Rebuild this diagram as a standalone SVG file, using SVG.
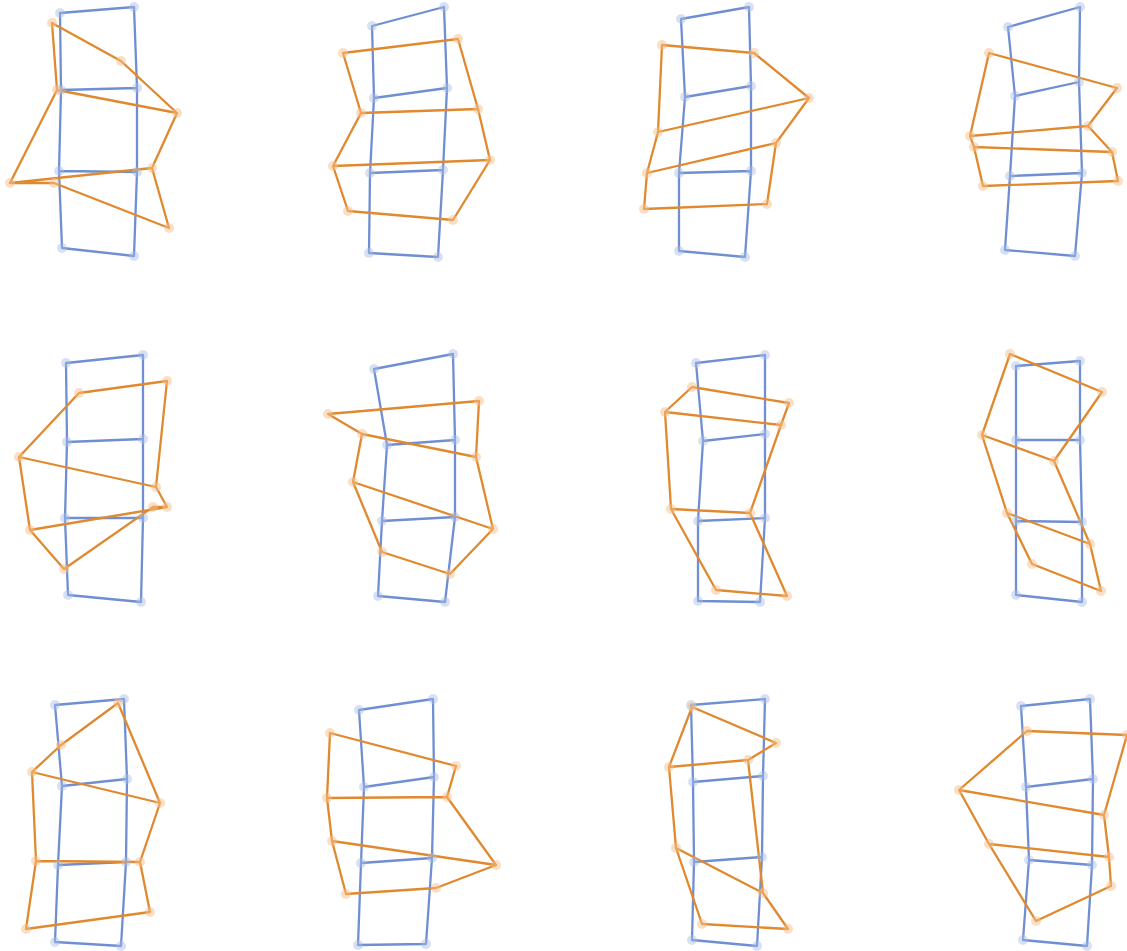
<svg xmlns="http://www.w3.org/2000/svg" width="1127" height="951" viewBox="0 0 1127 951">
<style>
.b{fill:none;stroke:#6f8fd2;stroke-width:2.3;stroke-linejoin:round;stroke-linecap:round}
.o{fill:none;stroke:#e0892f;stroke-width:2.3;stroke-linejoin:round;stroke-linecap:round}
.bh circle{fill:#a9bde6;opacity:0.45}
.oh circle{fill:#f5c08a;opacity:0.5}
</style>
<rect width="1127" height="951" fill="#ffffff"/>
<g id="connectors">
<!-- panel 1 -->
<path class="b" d="M60,13L61,90L59,171L62,248L134,256L137,172L137,88L134,7ZM61,90L137,88M59,171L137,172"/>
<path class="o" d="M52,23L57,90L10,183L54,183L169,228L152,168L177,113L121,61ZM57,90L177,113M10,183L152,168"/>
<!-- panel 2 -->
<path class="b" d="M372,26L374,98L370,173L369,253L438,257L443,170L447,88L444,7ZM374,98L447,88M370,173L443,170"/>
<path class="o" d="M343,53L361,113L333,166L348,211L453,220L490,160L478,109L458,39ZM361,113L478,109M333,166L490,160"/>
<!-- panel 3 -->
<path class="b" d="M681,19L685,97L679,173L679,251L745,257L751,171L751,86L749,7ZM685,97L751,86M679,173L751,171"/>
<path class="o" d="M662,45L658,132L647,173L644,209L767,204L776,143L809,98L754,53ZM658,132L809,98M647,173L776,143"/>
<!-- panel 4 -->
<path class="b" d="M1008,27L1015,96L1010,176L1005,250L1075,256L1082,173L1079,82L1080,7ZM1015,96L1079,82M1010,176L1082,173"/>
<path class="o" d="M989,53L970,136L974,147L983,186L1118,181L1112,152L1088,126L1117,88ZM970,136L1088,126M974,147L1112,152"/>
<!-- panel 5 -->
<path class="b" d="M66,363L67,442L65,518L68,595L141,602L143,518L143,439L143,355ZM67,442L143,439M65,518L143,518"/>
<path class="o" d="M79,393L19,457L30,530L64,569L153,507L167,507L156,487L167,381ZM19,457L156,487M30,530L167,507"/>
<!-- panel 6 -->
<path class="b" d="M374,369L387,445L382,521L378,596L445,602L455,517L455,440L453,354ZM387,445L455,440M382,521L455,517"/>
<path class="o" d="M328,414L362,434L353,482L382,552L450,574L493,529L476,457L479,401ZM362,434L476,457M353,482L493,529"/>
<!-- panel 7 -->
<path class="b" d="M696,363L703,441L698,521L698,601L760,602L765,518L765,434L765,355ZM703,441L765,434M698,521L765,518"/>
<path class="o" d="M692,387L665,412L671,509L716,590L787,596L750,513L781,425L789,403ZM665,412L781,425M671,509L750,513"/>
<!-- panel 8 -->
<path class="b" d="M1016,366L1016,440L1016,521L1016,595L1082,602L1082,522L1080,440L1080,361ZM1016,440L1080,440M1016,521L1082,522"/>
<path class="o" d="M1010,354L982,435L1007,513L1032,564L1101,591L1090,544L1054,461L1102,392ZM982,435L1054,461M1007,513L1090,544"/>
<!-- panel 9 -->
<path class="b" d="M55,705L62,786L58,865L55,942L121,946L126,862L127,779L124,699ZM62,786L127,779M58,865L126,862"/>
<path class="o" d="M61,745L32,772L36,861L26,929L150,912L140,862L160,803L118,703ZM32,772L160,803M36,861L140,862"/>
<!-- panel 10 -->
<path class="b" d="M359,710L364,787L361,863L358,945L426,944L432,858L434,777L433,699ZM364,787L434,777M361,863L432,858"/>
<path class="o" d="M330,733L327,798L332,841L346,894L436,888L496,865L447,797L456,766ZM327,798L447,797M332,841L496,865"/>
<!-- panel 11 -->
<path class="b" d="M691,705L693,782L694,862L692,940L757,946L762,857L763,776L765,699ZM693,782L763,776M694,862L762,857"/>
<path class="o" d="M692,707L669,767L676,848L702,924L788,929L763,893L748,760L776,743ZM669,767L748,760M676,848L763,893"/>
<!-- panel 12 -->
<path class="b" d="M1021,706L1026,787L1029,860L1023,940L1087,946L1092,865L1093,779L1090,699ZM1026,787L1093,779M1029,860L1092,865"/>
<path class="o" d="M1027,731L959,790L989,844L1036,921L1111,886L1109,857L1104,815L1127,735ZM959,790L1104,815M989,844L1109,857"/>
</g>
<g id="nodes-blue" class="bh">
<g id="p1-blue"><circle cx="60" cy="13" r="5"/><circle cx="134" cy="7" r="5"/><circle cx="61" cy="90" r="5"/><circle cx="137" cy="88" r="5"/><circle cx="59" cy="171" r="5"/><circle cx="137" cy="172" r="5"/><circle cx="62" cy="248" r="5"/><circle cx="134" cy="256" r="5"/></g>
<g id="p2-blue"><circle cx="372" cy="26" r="5"/><circle cx="444" cy="7" r="5"/><circle cx="374" cy="98" r="5"/><circle cx="447" cy="88" r="5"/><circle cx="370" cy="173" r="5"/><circle cx="443" cy="170" r="5"/><circle cx="369" cy="253" r="5"/><circle cx="438" cy="257" r="5"/></g>
<g id="p3-blue"><circle cx="681" cy="19" r="5"/><circle cx="749" cy="7" r="5"/><circle cx="685" cy="97" r="5"/><circle cx="751" cy="86" r="5"/><circle cx="679" cy="173" r="5"/><circle cx="751" cy="171" r="5"/><circle cx="679" cy="251" r="5"/><circle cx="745" cy="257" r="5"/></g>
<g id="p4-blue"><circle cx="1008" cy="27" r="5"/><circle cx="1080" cy="7" r="5"/><circle cx="1015" cy="96" r="5"/><circle cx="1079" cy="82" r="5"/><circle cx="1010" cy="176" r="5"/><circle cx="1082" cy="173" r="5"/><circle cx="1005" cy="250" r="5"/><circle cx="1075" cy="256" r="5"/></g>
<g id="p5-blue"><circle cx="66" cy="363" r="5"/><circle cx="143" cy="355" r="5"/><circle cx="67" cy="442" r="5"/><circle cx="143" cy="439" r="5"/><circle cx="65" cy="518" r="5"/><circle cx="143" cy="518" r="5"/><circle cx="68" cy="595" r="5"/><circle cx="141" cy="602" r="5"/></g>
<g id="p6-blue"><circle cx="374" cy="369" r="5"/><circle cx="453" cy="354" r="5"/><circle cx="387" cy="445" r="5"/><circle cx="455" cy="440" r="5"/><circle cx="382" cy="521" r="5"/><circle cx="455" cy="517" r="5"/><circle cx="378" cy="596" r="5"/><circle cx="445" cy="602" r="5"/></g>
<g id="p7-blue"><circle cx="696" cy="363" r="5"/><circle cx="765" cy="355" r="5"/><circle cx="703" cy="441" r="5"/><circle cx="765" cy="434" r="5"/><circle cx="698" cy="521" r="5"/><circle cx="765" cy="518" r="5"/><circle cx="698" cy="601" r="5"/><circle cx="760" cy="602" r="5"/></g>
<g id="p8-blue"><circle cx="1016" cy="366" r="5"/><circle cx="1080" cy="361" r="5"/><circle cx="1016" cy="440" r="5"/><circle cx="1080" cy="440" r="5"/><circle cx="1016" cy="521" r="5"/><circle cx="1082" cy="522" r="5"/><circle cx="1016" cy="595" r="5"/><circle cx="1082" cy="602" r="5"/></g>
<g id="p9-blue"><circle cx="55" cy="705" r="5"/><circle cx="124" cy="699" r="5"/><circle cx="62" cy="786" r="5"/><circle cx="127" cy="779" r="5"/><circle cx="58" cy="865" r="5"/><circle cx="126" cy="862" r="5"/><circle cx="55" cy="942" r="5"/><circle cx="121" cy="946" r="5"/></g>
<g id="p10-blue"><circle cx="359" cy="710" r="5"/><circle cx="433" cy="699" r="5"/><circle cx="364" cy="787" r="5"/><circle cx="434" cy="777" r="5"/><circle cx="361" cy="863" r="5"/><circle cx="432" cy="858" r="5"/><circle cx="358" cy="945" r="5"/><circle cx="426" cy="944" r="5"/></g>
<g id="p11-blue"><circle cx="691" cy="705" r="5"/><circle cx="765" cy="699" r="5"/><circle cx="693" cy="782" r="5"/><circle cx="763" cy="776" r="5"/><circle cx="694" cy="862" r="5"/><circle cx="762" cy="857" r="5"/><circle cx="692" cy="940" r="5"/><circle cx="757" cy="946" r="5"/></g>
<g id="p12-blue"><circle cx="1021" cy="706" r="5"/><circle cx="1090" cy="699" r="5"/><circle cx="1026" cy="787" r="5"/><circle cx="1093" cy="779" r="5"/><circle cx="1029" cy="860" r="5"/><circle cx="1092" cy="865" r="5"/><circle cx="1023" cy="940" r="5"/><circle cx="1087" cy="946" r="5"/></g>
</g>
<g id="nodes-orange" class="oh">
<g id="p1-orange"><circle cx="52" cy="23" r="5"/><circle cx="121" cy="61" r="5"/><circle cx="57" cy="90" r="5"/><circle cx="177" cy="113" r="5"/><circle cx="10" cy="183" r="5"/><circle cx="152" cy="168" r="5"/><circle cx="54" cy="183" r="5"/><circle cx="169" cy="228" r="5"/></g>
<g id="p2-orange"><circle cx="343" cy="53" r="5"/><circle cx="458" cy="39" r="5"/><circle cx="361" cy="113" r="5"/><circle cx="478" cy="109" r="5"/><circle cx="333" cy="166" r="5"/><circle cx="490" cy="160" r="5"/><circle cx="348" cy="211" r="5"/><circle cx="453" cy="220" r="5"/></g>
<g id="p3-orange"><circle cx="662" cy="45" r="5"/><circle cx="754" cy="53" r="5"/><circle cx="658" cy="132" r="5"/><circle cx="809" cy="98" r="5"/><circle cx="647" cy="173" r="5"/><circle cx="776" cy="143" r="5"/><circle cx="644" cy="209" r="5"/><circle cx="767" cy="204" r="5"/></g>
<g id="p4-orange"><circle cx="989" cy="53" r="5"/><circle cx="1117" cy="88" r="5"/><circle cx="970" cy="136" r="5"/><circle cx="1088" cy="126" r="5"/><circle cx="974" cy="147" r="5"/><circle cx="1112" cy="152" r="5"/><circle cx="983" cy="186" r="5"/><circle cx="1118" cy="181" r="5"/></g>
<g id="p5-orange"><circle cx="79" cy="393" r="5"/><circle cx="167" cy="381" r="5"/><circle cx="19" cy="457" r="5"/><circle cx="156" cy="487" r="5"/><circle cx="30" cy="530" r="5"/><circle cx="167" cy="507" r="5"/><circle cx="64" cy="569" r="5"/><circle cx="153" cy="507" r="5"/></g>
<g id="p6-orange"><circle cx="328" cy="414" r="5"/><circle cx="479" cy="401" r="5"/><circle cx="362" cy="434" r="5"/><circle cx="476" cy="457" r="5"/><circle cx="353" cy="482" r="5"/><circle cx="493" cy="529" r="5"/><circle cx="382" cy="552" r="5"/><circle cx="450" cy="574" r="5"/></g>
<g id="p7-orange"><circle cx="692" cy="387" r="5"/><circle cx="789" cy="403" r="5"/><circle cx="665" cy="412" r="5"/><circle cx="781" cy="425" r="5"/><circle cx="671" cy="509" r="5"/><circle cx="750" cy="513" r="5"/><circle cx="716" cy="590" r="5"/><circle cx="787" cy="596" r="5"/></g>
<g id="p8-orange"><circle cx="1010" cy="354" r="5"/><circle cx="1102" cy="392" r="5"/><circle cx="982" cy="435" r="5"/><circle cx="1054" cy="461" r="5"/><circle cx="1007" cy="513" r="5"/><circle cx="1090" cy="544" r="5"/><circle cx="1032" cy="564" r="5"/><circle cx="1101" cy="591" r="5"/></g>
<g id="p9-orange"><circle cx="61" cy="745" r="5"/><circle cx="118" cy="703" r="5"/><circle cx="32" cy="772" r="5"/><circle cx="160" cy="803" r="5"/><circle cx="36" cy="861" r="5"/><circle cx="140" cy="862" r="5"/><circle cx="26" cy="929" r="5"/><circle cx="150" cy="912" r="5"/></g>
<g id="p10-orange"><circle cx="330" cy="733" r="5"/><circle cx="456" cy="766" r="5"/><circle cx="327" cy="798" r="5"/><circle cx="447" cy="797" r="5"/><circle cx="332" cy="841" r="5"/><circle cx="496" cy="865" r="5"/><circle cx="346" cy="894" r="5"/><circle cx="436" cy="888" r="5"/></g>
<g id="p11-orange"><circle cx="692" cy="707" r="5"/><circle cx="776" cy="743" r="5"/><circle cx="669" cy="767" r="5"/><circle cx="748" cy="760" r="5"/><circle cx="676" cy="848" r="5"/><circle cx="763" cy="893" r="5"/><circle cx="702" cy="924" r="5"/><circle cx="788" cy="929" r="5"/></g>
<g id="p12-orange"><circle cx="1027" cy="731" r="5"/><circle cx="1127" cy="735" r="5"/><circle cx="959" cy="790" r="5"/><circle cx="1104" cy="815" r="5"/><circle cx="989" cy="844" r="5"/><circle cx="1109" cy="857" r="5"/><circle cx="1036" cy="921" r="5"/><circle cx="1111" cy="886" r="5"/></g>
</g>
</svg>
